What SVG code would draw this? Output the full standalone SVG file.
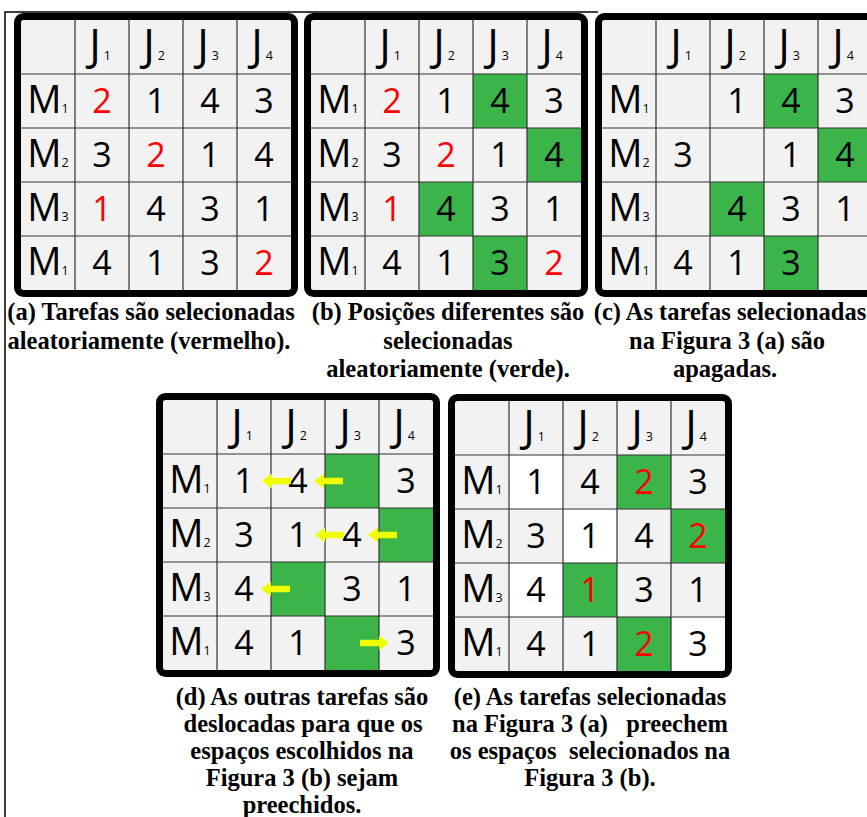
<svg xmlns="http://www.w3.org/2000/svg" xmlns:xlink="http://www.w3.org/1999/xlink" width="867" height="817" viewBox="0 0 867 817">
<style>
.bg{fill:#f2f2f2}
.g{fill:#3bb44a}
.w{fill:#ffffff}
.grid{fill:none;stroke:#333;stroke-width:1.2}
.frame{fill:none;stroke:#000;stroke-width:7}
.n{font-family:"Open Sans","DejaVu Sans",sans-serif;font-size:34px;text-anchor:middle;fill:#000}
.r{fill:#ff0000}
.h{font-family:"Open Sans","DejaVu Sans",sans-serif;font-size:38px;text-anchor:middle;fill:#000}
.j{font-family:"Open Sans","DejaVu Sans",sans-serif;font-size:43px;text-anchor:middle;fill:#000}
.s{font-size:12.5px}
.cap{font-family:"Liberation Serif","Times New Roman",serif;font-weight:bold;font-size:24.5px;text-anchor:middle;fill:#000;white-space:pre}
.arrow{fill:#f0ff00}
.border{stroke:#000;stroke-width:1.5;fill:none}
</style>
<defs>
<path id="gridlines" class="grid" d="M54,0V270M108,0V270M162,0V270M216,0V270M0,54H270M0,108H270M0,162H270M0,216H270"/>
<path id="arrL" d="M0,0L10,-7.5L10,-3.2L29,-3.2L29,3.2L10,3.2L10,7.5Z"/>
</defs>
<rect x="0" y="0" width="867" height="817" fill="#ffffff"/>
<path class="border" d="M5,817V12H598"/>

<g id="table-a" transform="translate(21,20)">
<rect class="bg" x="0" y="0" width="270" height="270"/>
<use xlink:href="#gridlines"/>
<rect class="frame" x="-3.5" y="-3.5" width="277" height="277" rx="6"/>
<text class="j" x="79" y="40">J<tspan class="s" dx="3">1</tspan></text>
<text class="j" x="133" y="40">J<tspan class="s" dx="3">2</tspan></text>
<text class="j" x="187" y="40">J<tspan class="s" dx="3">3</tspan></text>
<text class="j" x="241" y="40">J<tspan class="s" dx="3">4</tspan></text>
<text class="h" x="27" y="93">M<tspan class="s">1</tspan></text>
<text class="h" x="27" y="147">M<tspan class="s">2</tspan></text>
<text class="h" x="27" y="201">M<tspan class="s">3</tspan></text>
<text class="h" x="27" y="255">M<tspan class="s">1</tspan></text>
<text class="n r" x="81" y="93">2</text><text class="n" x="135" y="93">1</text><text class="n" x="189" y="93">4</text><text class="n" x="243" y="93">3</text>
<text class="n" x="81" y="147">3</text><text class="n r" x="135" y="147">2</text><text class="n" x="189" y="147">1</text><text class="n" x="243" y="147">4</text>
<text class="n r" x="81" y="201">1</text><text class="n" x="135" y="201">4</text><text class="n" x="189" y="201">3</text><text class="n" x="243" y="201">1</text>
<text class="n" x="81" y="255">4</text><text class="n" x="135" y="255">1</text><text class="n" x="189" y="255">3</text><text class="n r" x="243" y="255">2</text>
</g>

<g id="table-b" transform="translate(311,20)">
<rect class="bg" x="0" y="0" width="270" height="270"/>
<rect class="g" x="162" y="54" width="54" height="54"/>
<rect class="g" x="216" y="108" width="54" height="54"/>
<rect class="g" x="108" y="162" width="54" height="54"/>
<rect class="g" x="162" y="216" width="54" height="54"/>
<use xlink:href="#gridlines"/>
<rect class="frame" x="-3.5" y="-3.5" width="277" height="277" rx="6"/>
<text class="j" x="79" y="40">J<tspan class="s" dx="3">1</tspan></text>
<text class="j" x="133" y="40">J<tspan class="s" dx="3">2</tspan></text>
<text class="j" x="187" y="40">J<tspan class="s" dx="3">3</tspan></text>
<text class="j" x="241" y="40">J<tspan class="s" dx="3">4</tspan></text>
<text class="h" x="27" y="93">M<tspan class="s">1</tspan></text>
<text class="h" x="27" y="147">M<tspan class="s">2</tspan></text>
<text class="h" x="27" y="201">M<tspan class="s">3</tspan></text>
<text class="h" x="27" y="255">M<tspan class="s">1</tspan></text>
<text class="n r" x="81" y="93">2</text><text class="n" x="135" y="93">1</text><text class="n" x="189" y="93">4</text><text class="n" x="243" y="93">3</text>
<text class="n" x="81" y="147">3</text><text class="n r" x="135" y="147">2</text><text class="n" x="189" y="147">1</text><text class="n" x="243" y="147">4</text>
<text class="n r" x="81" y="201">1</text><text class="n" x="135" y="201">4</text><text class="n" x="189" y="201">3</text><text class="n" x="243" y="201">1</text>
<text class="n" x="81" y="255">4</text><text class="n" x="135" y="255">1</text><text class="n" x="189" y="255">3</text><text class="n r" x="243" y="255">2</text>
</g>

<g id="table-c" transform="translate(602,20)">
<rect class="bg" x="0" y="0" width="270" height="270"/>
<rect class="g" x="162" y="54" width="54" height="54"/>
<rect class="g" x="216" y="108" width="54" height="54"/>
<rect class="g" x="108" y="162" width="54" height="54"/>
<rect class="g" x="162" y="216" width="54" height="54"/>
<use xlink:href="#gridlines"/>
<rect class="frame" x="-3.5" y="-3.5" width="277" height="277" rx="6"/>
<text class="j" x="79" y="40">J<tspan class="s" dx="3">1</tspan></text>
<text class="j" x="133" y="40">J<tspan class="s" dx="3">2</tspan></text>
<text class="j" x="187" y="40">J<tspan class="s" dx="3">3</tspan></text>
<text class="j" x="241" y="40">J<tspan class="s" dx="3">4</tspan></text>
<text class="h" x="27" y="93">M<tspan class="s">1</tspan></text>
<text class="h" x="27" y="147">M<tspan class="s">2</tspan></text>
<text class="h" x="27" y="201">M<tspan class="s">3</tspan></text>
<text class="h" x="27" y="255">M<tspan class="s">1</tspan></text>
<text class="n" x="135" y="93">1</text><text class="n" x="189" y="93">4</text><text class="n" x="243" y="93">3</text>
<text class="n" x="81" y="147">3</text><text class="n" x="189" y="147">1</text><text class="n" x="243" y="147">4</text>
<text class="n" x="135" y="201">4</text><text class="n" x="189" y="201">3</text><text class="n" x="243" y="201">1</text>
<text class="n" x="81" y="255">4</text><text class="n" x="135" y="255">1</text><text class="n" x="189" y="255">3</text>
</g>

<g id="table-d" transform="translate(163,400)">
<rect class="bg" x="0" y="0" width="270" height="270"/>
<rect class="g" x="162" y="54" width="54" height="54"/>
<rect class="g" x="216" y="108" width="54" height="54"/>
<rect class="g" x="108" y="162" width="54" height="54"/>
<rect class="g" x="162" y="216" width="54" height="54"/>
<use xlink:href="#gridlines"/>
<rect class="frame" x="-3.5" y="-3.5" width="277" height="277" rx="6"/>
<text class="j" x="79" y="40">J<tspan class="s" dx="3">1</tspan></text>
<text class="j" x="133" y="40">J<tspan class="s" dx="3">2</tspan></text>
<text class="j" x="187" y="40">J<tspan class="s" dx="3">3</tspan></text>
<text class="j" x="241" y="40">J<tspan class="s" dx="3">4</tspan></text>
<text class="h" x="27" y="93">M<tspan class="s">1</tspan></text>
<text class="h" x="27" y="147">M<tspan class="s">2</tspan></text>
<text class="h" x="27" y="201">M<tspan class="s">3</tspan></text>
<text class="h" x="27" y="255">M<tspan class="s">1</tspan></text>
<text class="n" x="81" y="93">1</text><text class="n" x="135" y="93">4</text><text class="n" x="243" y="93">3</text>
<text class="n" x="81" y="147">3</text><text class="n" x="135" y="147">1</text><text class="n" x="189" y="147">4</text>
<text class="n" x="81" y="201">4</text><text class="n" x="189" y="201">3</text><text class="n" x="243" y="201">1</text>
<text class="n" x="81" y="255">4</text><text class="n" x="135" y="255">1</text><text class="n" x="243" y="255">3</text>
</g>

<g id="table-e" transform="translate(455,401)">
<rect class="bg" x="0" y="0" width="270" height="270"/>
<rect class="w" x="54" y="54" width="54" height="54"/>
<rect class="w" x="108" y="108" width="54" height="54"/>
<rect class="w" x="54" y="162" width="54" height="54"/>
<rect class="w" x="216" y="216" width="54" height="54"/>
<rect class="g" x="162" y="54" width="54" height="54"/>
<rect class="g" x="216" y="108" width="54" height="54"/>
<rect class="g" x="108" y="162" width="54" height="54"/>
<rect class="g" x="162" y="216" width="54" height="54"/>
<use xlink:href="#gridlines"/>
<rect class="frame" x="-3.5" y="-3.5" width="277" height="277" rx="6"/>
<text class="j" x="79" y="40">J<tspan class="s" dx="3">1</tspan></text>
<text class="j" x="133" y="40">J<tspan class="s" dx="3">2</tspan></text>
<text class="j" x="187" y="40">J<tspan class="s" dx="3">3</tspan></text>
<text class="j" x="241" y="40">J<tspan class="s" dx="3">4</tspan></text>
<text class="h" x="27" y="93">M<tspan class="s">1</tspan></text>
<text class="h" x="27" y="147">M<tspan class="s">2</tspan></text>
<text class="h" x="27" y="201">M<tspan class="s">3</tspan></text>
<text class="h" x="27" y="255">M<tspan class="s">1</tspan></text>
<text class="n" x="81" y="93">1</text><text class="n" x="135" y="93">4</text><text class="n r" x="189" y="93">2</text><text class="n" x="243" y="93">3</text>
<text class="n" x="81" y="147">3</text><text class="n" x="135" y="147">1</text><text class="n" x="189" y="147">4</text><text class="n r" x="243" y="147">2</text>
<text class="n" x="81" y="201">4</text><text class="n r" x="135" y="201">1</text><text class="n" x="189" y="201">3</text><text class="n" x="243" y="201">1</text>
<text class="n" x="81" y="255">4</text><text class="n" x="135" y="255">1</text><text class="n r" x="189" y="255">2</text><text class="n" x="243" y="255">3</text>
</g>

<g id="connectors">
<use class="arrow" xlink:href="#arrL" x="262" y="481"/>
<use class="arrow" xlink:href="#arrL" x="314" y="481"/>
<use class="arrow" xlink:href="#arrL" x="315" y="535"/>
<use class="arrow" xlink:href="#arrL" x="368" y="535"/>
<use class="arrow" xlink:href="#arrL" x="261" y="589"/>
<use class="arrow" xlink:href="#arrL" transform="translate(389,643) scale(-1,1)"/>
</g>

<g id="captions">
<text class="cap" x="151" y="320">(a) Tarefas são selecionadas</text>
<text class="cap" x="149" y="349">aleatoriamente (vermelho).</text>
<text class="cap" x="448" y="320">(b) Posições diferentes são</text>
<text class="cap" x="448" y="349">selecionadas</text>
<text class="cap" x="448" y="377">aleatoriamente (verde).</text>
<text class="cap" x="730" y="320">(c) As tarefas selecionadas</text>
<text class="cap" x="727" y="349">na Figura 3 (a) são</text>
<text class="cap" x="725" y="377">apagadas.</text>
<text class="cap" x="302" y="705">(d) As outras tarefas são</text>
<text class="cap" x="303" y="732">deslocadas para que os</text>
<text class="cap" x="302" y="759">espaços escolhidos na</text>
<text class="cap" x="302" y="786">Figura 3 (b) sejam</text>
<text class="cap" x="302" y="813">preechidos.</text>
<text class="cap" x="590" y="705">(e) As tarefas selecionadas</text>
<text class="cap" x="590" y="732">na Figura 3 (a)   preechem</text>
<text class="cap" x="590" y="759">os espaços  selecionados na</text>
<text class="cap" x="590" y="786">Figura 3 (b).</text>
</g>
</svg>
